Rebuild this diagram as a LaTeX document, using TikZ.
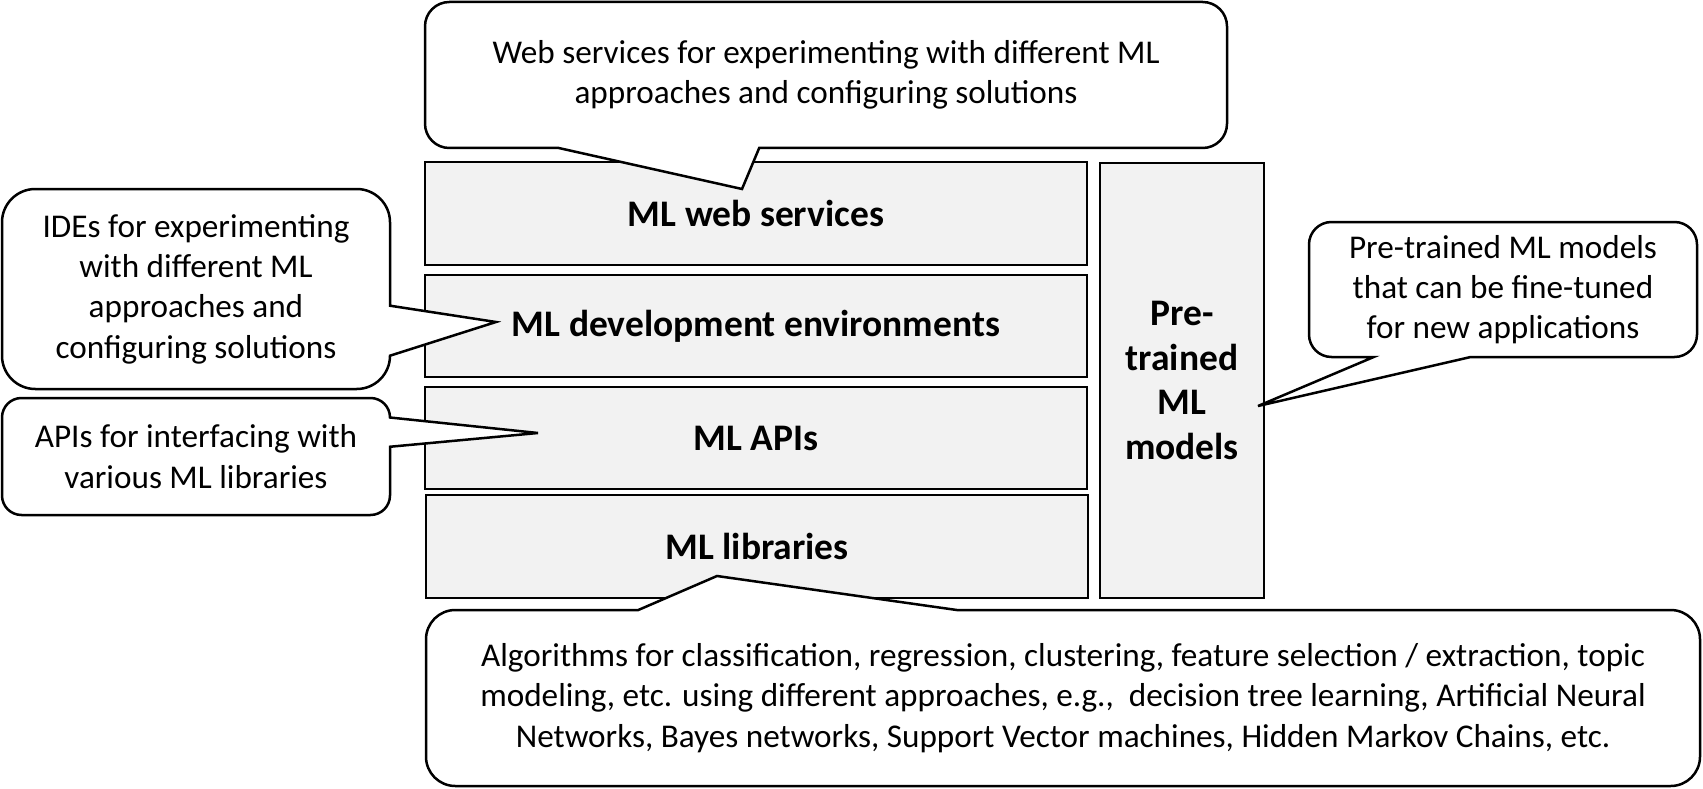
\documentclass[tikz,border=0pt]{standalone}
\usepackage{fontspec}
\setmainfont{Carlito}
\definecolor{boxgray}{HTML}{F2F2F2}
\tikzset{
  layer/.style={draw=black, line width=2.5pt, fill=boxgray, inner sep=0pt,
    font=\fontsize{37.5}{44.5}\selectfont\bfseries, align=center},
  calloutshape/.style={draw=black, line width=2.5pt, fill=white, line join=miter},
  note/.style={inner sep=0pt, font=\fontsize{33.2}{40.3}\selectfont, align=center},
}
\begin{document}
\begin{tikzpicture}[x=1pt,y=1pt]
\useasboundingbox (0,0) rectangle (1703,-789);
% layers
\node[layer, minimum width=662pt, minimum height=103pt] (web) at (756,-213.5) {ML web services};
\node[layer, minimum width=662pt, minimum height=102pt] (dev) at (756,-326) {ML development environments};
\node[layer, minimum width=662pt, minimum height=102pt] (api) at (756,-438) {ML APIs};
\node[layer, minimum width=662pt, minimum height=103pt] (lib) at (757,-546.5) {ML libraries};
\node[layer, minimum width=164pt, minimum height=435pt] (pre) at (1182,-380.5) {Pre-\\trained\\ML\\models};
% pointer tips
\coordinate (tipT) at (742,-189);
\coordinate (tipI) at (496,-322);
\coordinate (tipA) at (538,-433);
\coordinate (tipR) at (1258,-406);
\coordinate (tipB) at (717,-576);
% callouts
\draw[calloutshape] (449.3,-2) -- (1202.7,-2) arc[start angle=90,end angle=0,radius=24.3]
  -- (1227,-123.7) arc[start angle=0,end angle=-90,radius=24.3]
  -- (759.2,-148) -- (tipT) -- (558.7,-148) -- (449.3,-148)
  arc[start angle=-90,end angle=-180,radius=24.3]
  -- (425,-26.3) arc[start angle=180,end angle=90,radius=24.3] -- cycle;
\draw[calloutshape] (35.3,-189) -- (356.7,-189) arc[start angle=90,end angle=0,radius=33.3]
  -- (390,-305.7) -- (tipI) -- (390,-355.7)
  arc[start angle=0,end angle=-90,radius=33.3]
  -- (35.3,-389) arc[start angle=-90,end angle=-180,radius=33.3]
  -- (2,-222.3) arc[start angle=180,end angle=90,radius=33.3] -- cycle;
\draw[calloutshape] (21.5,-398) -- (370.5,-398) arc[start angle=90,end angle=0,radius=19.5]
  -- (tipA) -- (390,-446.75) -- (390,-495.5)
  arc[start angle=0,end angle=-90,radius=19.5]
  -- (21.5,-515) arc[start angle=-90,end angle=-180,radius=19.5]
  -- (2,-417.5) arc[start angle=180,end angle=90,radius=19.5] -- cycle;
\draw[calloutshape] (1331.5,-222) -- (1674.5,-222) arc[start angle=90,end angle=0,radius=22.5]
  -- (1697,-334.5) arc[start angle=0,end angle=-90,radius=22.5]
  -- (1470.7,-357) -- (tipR) -- (1373.7,-357) -- (1331.5,-357)
  arc[start angle=-90,end angle=-180,radius=22.5]
  -- (1309,-244.5) arc[start angle=180,end angle=90,radius=22.5] -- cycle;
\draw[calloutshape] (455.3,-610) -- (638.3,-610) -- (tipB) -- (956.8,-610) -- (1670.7,-610)
  arc[start angle=90,end angle=0,radius=29.3]
  -- (1700,-756.7) arc[start angle=0,end angle=-90,radius=29.3]
  -- (455.3,-786) arc[start angle=-90,end angle=-180,radius=29.3]
  -- (426,-639.3) arc[start angle=180,end angle=90,radius=29.3] -- cycle;
% callout texts
\node[note] (tWeb) at (826,-75) {Web services for experimenting with different ML\\approaches and configuring solutions};
\node[note] (tIde) at (196,-289) {IDEs for experimenting\\with different ML\\approaches and\\configuring solutions};
\node[note] (tApi) at (196,-456.5) {APIs for interfacing with\\various ML libraries};
\node[note] (tPre) at (1503,-289.5) {Pre-trained ML models\\that can be fine-tuned\\for new applications};
\node[note] (tLib) at (1063,-698) {Algorithms for classification, regression, clustering, feature selection / extraction, topic\\modeling, etc. using different approaches, e.g.,\ \ decision tree learning, Artificial Neural\\Networks, Bayes networks, Support Vector machines, Hidden Markov Chains, etc.};
\end{tikzpicture}
\end{document}
